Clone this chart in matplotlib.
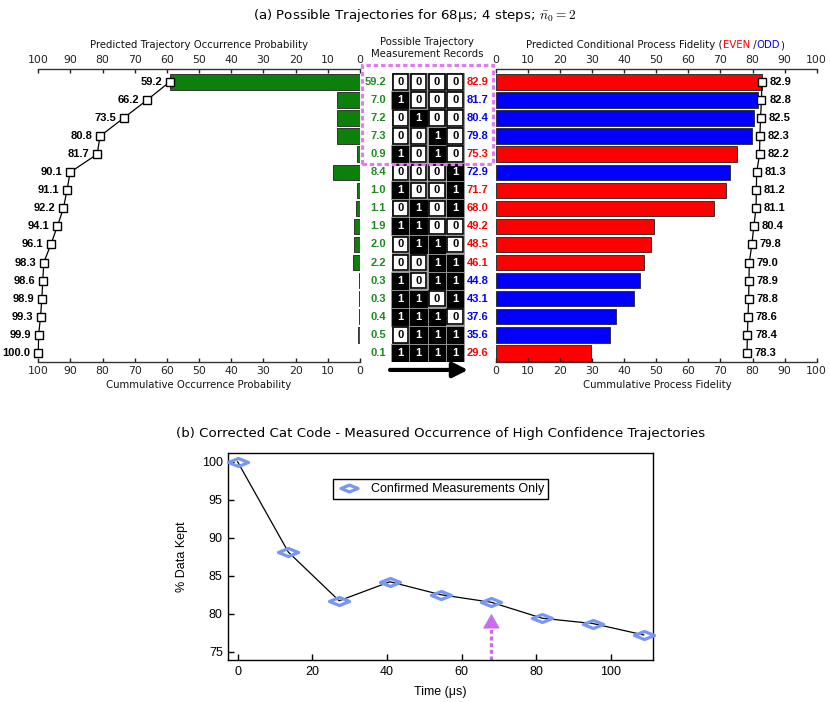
import matplotlib
matplotlib.use("Agg")
import matplotlib.pyplot as plt
from matplotlib.patches import Rectangle, Polygon
from matplotlib.path import Path
import numpy as np

# ---------------- data (panel a) ----------------
occurrence = [59.2, 7.0, 7.2, 7.3, 0.9, 8.4, 1.0, 1.1, 1.9, 2.0, 2.2, 0.3, 0.3, 0.4, 0.5, 0.1]
cumulative_occurrence = [59.2, 66.2, 73.5, 80.8, 81.7, 90.1, 91.1, 92.2, 94.1, 96.1,
                         98.3, 98.6, 98.9, 99.3, 99.9, 100.0]
records = ["0000", "1000", "0100", "0010", "1010", "0001", "1001", "0101",
           "1100", "0110", "0011", "1011", "1101", "1110", "0111", "1111"]
fidelity = [82.9, 81.7, 80.4, 79.8, 75.3, 72.9, 71.7, 68.0, 49.2, 48.5, 46.1,
            44.8, 43.1, 37.6, 35.6, 29.6]
cumulative_fidelity = [82.9, 82.8, 82.5, 82.3, 82.2, 81.3, 81.2, 81.1, 80.4, 79.8,
                       79.0, 78.9, 78.8, 78.6, 78.4, 78.3]
n_highlight = 5  # rows inside the dashed box

# ---------------- data (panel b) ----------------
time_us = [0, 13.6, 27.2, 40.8, 54.4, 68.0, 81.6, 95.2, 108.8]
data_kept = [100.0, 88.1, 81.7, 84.2, 82.5, 81.5, 79.4, 78.7, 77.2]
marked_time = 68.0

RED = "#ff0000"
BLUE = "#0000ff"
GREEN_TXT = "#1f8a1f"
GREEN_BAR = "#0b800b"
MAGENTA = "#e07cf0"
ARROW_MAG = "#c86cf0"
DIAMOND = "#7896f5"

plt.rcParams["font.family"] = "DejaVu Sans"
plt.rcParams["mathtext.fontset"] = "cm"

W, H = 830, 702
fig = plt.figure(figsize=(W / 100, H / 100), dpi=100)


def px_axes(x0, y0, x1, y1):
    """axes from pixel box (top-left origin)"""
    return fig.add_axes([x0 / W, 1 - y1 / H, (x1 - x0) / W, (y1 - y0) / H])


num_font = dict(family="Liberation Sans", weight="bold", fontsize=8)
rows = np.arange(len(occurrence))
row_lim = (15.51, -0.72)
bar_h = 0.86

axL = px_axes(38.3, 69, 360, 362)
axM = px_axes(360, 69, 495.7, 362)
axR = px_axes(495.7, 69, 816.7, 362)

# ---- left: occurrence probability ----
axL.barh(rows, occurrence, height=bar_h, color=GREEN_BAR, edgecolor="#333333", linewidth=0.7)
axL.plot(cumulative_occurrence, rows, color="black", lw=0.9, marker="s", ms=5.5,
         mfc="white", mec="black", mew=1.0, clip_on=False, zorder=3)
for v, r in zip(cumulative_occurrence, rows):
    axL.annotate(f"{v:.1f}", (v, r), xytext=(-5.5, 0), textcoords="offset points",
                 ha="right", va="center", **num_font)
axL.set_xlim(100, 0)

# ---- right: process fidelity ----
parity_colors = [RED if rec.count("1") % 2 == 0 else BLUE for rec in records]
axR.barh(rows, fidelity, height=bar_h, color=parity_colors, edgecolor="#333333", linewidth=0.7)
axR.plot(cumulative_fidelity, rows, color="black", lw=0.9, marker="s", ms=5.5,
         mfc="white", mec="black", mew=1.0, clip_on=False, zorder=3)
for v, r in zip(cumulative_fidelity, rows):
    axR.annotate(f"{v:.1f}", (v, r), xytext=(5.5, 0), textcoords="offset points",
                 ha="left", va="center", **num_font)
axR.set_xlim(0, 100)

for ax in (axL, axR):
    ax.set_ylim(*row_lim)
    ax.set_yticks([])
    ax.set_xticks(range(0, 101, 10))
    ax.tick_params(axis="x", top=True, labeltop=True, bottom=True, labelbottom=True,
                   direction="in", length=3, width=1, pad=3, labelsize=7.8,
                   colors="#222222")
    for side in ("left", "right"):
        ax.spines[side].set_visible(False)
    for side in ("top", "bottom"):
        ax.spines[side].set_linewidth(1.0)
        ax.spines[side].set_color("#333333")
    ax.patch.set_alpha(0)

# ---- middle: measurement records ----
axM.set_xlim(0, 135.7)
axM.set_ylim(*row_lim)
axM.axis("off")
cell_x = [40.3, 58.6, 76.9, 95.2]
cell_w = 18.3
for r, rec in enumerate(records):
    axM.text(26, r, f"{occurrence[r]:.1f}", ha="right", va="center", color=GREEN_TXT, **num_font)
    axM.text(106.5, r, f"{fidelity[r]:.1f}", ha="left", va="center",
             color=parity_colors[r], **num_font)
    for c, bit in enumerate(rec):
        cx = cell_x[c]
        if bit == "1":
            axM.add_patch(Rectangle((cx - cell_w / 2, r - 0.5), cell_w, 1.0,
                                    fc="black", ec="#9a9a9a", lw=0.6))
            axM.text(cx, r, "1", ha="center", va="center", color="white", **num_font)
        else:
            axM.add_patch(Rectangle((cx - cell_w / 2 + 0.6, r - 0.48), cell_w - 1.2, 0.96,
                                    fc="white", ec="#9a9a9a", lw=0.8))
            axM.add_patch(Rectangle((cx - 7.8, r - 0.43), 15.6, 0.86,
                                    fc="white", ec="black", lw=1.2))
            axM.text(cx, r, "0", ha="center", va="center", color="black", **num_font)

# time arrow under the records
axM.annotate("", xy=(108, 15.95), xytext=(30, 15.95),
             arrowprops=dict(arrowstyle="-|>,head_length=0.9,head_width=0.45",
                             lw=3, color="black", shrinkA=0, shrinkB=0),
             annotation_clip=False)

# dashed highlight box
box_top, box_bot = 65, 82 + 18.07 * (n_highlight - 1) + 10
fig.add_artist(Rectangle((361.7 / W, 1 - box_bot / H), (493.3 - 361.7) / W, (box_bot - box_top) / H,
                         transform=fig.transFigure, fill=False, ec=MAGENTA, lw=2.3,
                         ls=(0, (1.4, 0.9)), zorder=10))

# ---- labels panel a ----
lab = dict(fontsize=7.3, ha="center", va="center", color="#111111")
fig.text(0.5, 1 - 15 / H, r"(a) Possible Trajectories for 68μs; 4 steps; $\bar{n}_0 = 2$",
         fontsize=9.6, ha="center", va="center")
fig.text(199 / W, 1 - 45 / H, "Predicted Trajectory Occurrence Probability", **lab)
fig.text(427 / W, 1 - 48 / H, "Possible Trajectory\nMeasurement Records", linespacing=1.25, **lab)
fig.text(199 / W, 1 - 385 / H, "Cummulative Occurrence Probability", **lab)
fig.text(657 / W, 1 - 385 / H, "Cummulative Process Fidelity", **lab)

renderer = fig.canvas.get_renderer()
parts = [("Predicted Conditional Process Fidelity (", "#111111"), ("EVEN", RED),
         (" /", "#111111"), ("ODD", BLUE), (")", "#111111")]
pieces = []
for s, col in parts:
    t = fig.text(0, 1 - 45 / H, s, color=col, fontsize=7.3, ha="left", va="center")
    pieces.append((t, t.get_window_extent(renderer=renderer).width))
x = 655 - sum(w for _, w in pieces) / 2
for t, w in pieces:
    t.set_x(x / W)
    x += w

# ---------------- panel b ----------------
axB = px_axes(228.3, 452.7, 653, 660)
diamond = Path([(-1, 0), (0, 0.4), (1, 0), (0, -0.4), (-1, 0)],
               [Path.MOVETO, Path.LINETO, Path.LINETO, Path.LINETO, Path.CLOSEPOLY])
axB.plot(time_us, data_kept, color="black", lw=0.9, zorder=2)
axB.plot(time_us, data_kept, ls="none", marker=diamond, ms=14.5, mfc="none", mec=DIAMOND,
         mew=2.3, clip_on=False, zorder=3, label="Confirmed Measurements Only")
axB.set_xlim(-2.5, 111.3)
axB.set_ylim(73.9, 101.2)
axB.set_xticks(range(0, 101, 20))
axB.set_yticks(range(75, 101, 5))
bfont = "Liberation Sans"
axB.tick_params(direction="in", length=4, width=1, labelsize=9, pad=4)
for lbl in axB.get_xticklabels() + axB.get_yticklabels():
    lbl.set_family(bfont)
for sp in axB.spines.values():
    sp.set_linewidth(1.0)
axB.set_xlabel("Time (μs)", family=bfont, fontsize=9, labelpad=6)
axB.set_ylabel("% Data Kept", family=bfont, fontsize=9, labelpad=10)
axB.set_title("(b) Corrected Cat Code - Measured Occurrence of High Confidence Trajectories",
              fontsize=9.6, pad=11)

# dashed arrow marking the chosen time
k = time_us.index(marked_time)
tip = data_kept[k] - 1.6
base = tip - 1.8
axB.plot([marked_time, marked_time], [73.9, base], color=ARROW_MAG, lw=2.4,
         ls=(0, (1.2, 0.8)), solid_capstyle="butt", clip_on=False)
axB.add_patch(Polygon([(marked_time - 2.1, base), (marked_time + 2.1, base), (marked_time, tip)],
                      closed=True, fc=ARROW_MAG, ec=ARROW_MAG, lw=0.5))

leg = axB.legend(loc="center", bbox_to_anchor=(0.4994, 0.825), fancybox=False, framealpha=1,
                 edgecolor="black", prop=dict(family=bfont, size=9), handlelength=2.0,
                 handletextpad=0.8, borderpad=0.3, markerscale=0.85)
leg.get_frame().set_linewidth(1.0)

fig.savefig("out.png", dpi=100)
